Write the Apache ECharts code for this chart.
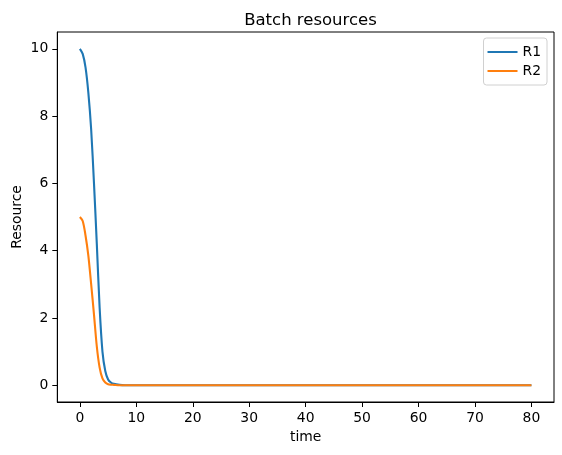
<!DOCTYPE html>
<html><head><meta charset="utf-8">
<script src="https://cdn.jsdelivr.net/npm/echarts@6/dist/echarts.min.js"></script>
<style>html,body{margin:0;padding:0;background:#fff}#c{width:562px;height:455px}</style>
</head><body><div id="c"></div>
<script>
const times = [0,0.5,1,1.5,2,2.5,3,3.5,4,4.5,5,5.5,6,7,8,10,20,30,40,50,60,70,80];
const r1 = [10.0,9.85,9.45,8.7,7.6,6.0,4.2,2.3,1.0,0.42,0.17,0.08,0.04,0.01,0.0,0,0,0,0,0,0,0,0];
const r2 = [5.0,4.88,4.45,3.85,3.0,2.1,1.15,0.52,0.2,0.08,0.03,0.015,0.01,0.0,0,0,0,0,0,0,0,0,0];
const xTicks = [0,10,20,30,40,50,60,70,80];
const yTicks = [0,2,4,6,8,10];

const xSpan = xTicks[xTicks.length-1] - xTicks[0];
const ySpan = yTicks[yTicks.length-1] - yTicks[0];
const font = 'DejaVu Sans';
const chart = echarts.init(document.getElementById('c'), null, {renderer:'canvas'});
chart.setOption({
  animation:false,
  backgroundColor:'#fff',
  title:{text:'Batch resources', left:305.5, top:7, textAlign:'center',
    textStyle:{fontFamily:font,fontSize:16.5,fontWeight:'normal',color:'#000'}},
  grid:{left:57.3,right:8,top:32,bottom:53,containLabel:false,outerBoundsMode:'none',
    show:true,borderColor:'#000',borderWidth:1,backgroundColor:'transparent'},
  legend:{orient:'vertical',right:15,top:38,itemWidth:30,itemHeight:14,itemGap:5,
    padding:[7,6,7,4],borderColor:'#d0d0d0',borderWidth:1,borderRadius:3,backgroundColor:'rgba(255,255,255,0.8)',
    textStyle:{fontFamily:font,fontSize:13.9,color:'#000'},
    data:[{name:'R1',icon:'path://M0,0 L30,0 L30,2 L0,2 Z'},{name:'R2',icon:'path://M0,0 L30,0 L30,2 L0,2 Z'}]},
  xAxis:{type:'value',min:xTicks[0]-0.05*xSpan,max:xTicks[xTicks.length-1]+0.05*xSpan,
    name:'time',nameLocation:'middle',nameGap:28,
    nameTextStyle:{fontFamily:font,fontSize:13.9,color:'#000'},
    axisLine:{show:true,onZero:false,lineStyle:{color:'#000',width:1}},
    axisTick:{show:true,inside:false,length:5,customValues:xTicks,lineStyle:{color:'#000',width:1}},
    axisLabel:{fontFamily:font,fontSize:13.9,color:'#000',margin:9,customValues:xTicks},
    splitLine:{show:false}},
  yAxis:{type:'value',min:yTicks[0]-0.05*ySpan,max:yTicks[yTicks.length-1]+0.05*ySpan,
    name:'Resource',nameLocation:'middle',nameGap:33,nameRotate:90,nameMoveOverlap:false,
    nameTextStyle:{fontFamily:font,fontSize:13.9,color:'#000'},
    axisLine:{show:true,onZero:false,lineStyle:{color:'#000',width:1}},
    axisTick:{show:true,inside:false,length:5,customValues:yTicks,lineStyle:{color:'#000',width:1}},
    axisLabel:{fontFamily:font,fontSize:13.9,color:'#000',margin:9,customValues:yTicks},
    splitLine:{show:false}},
  series:[
    {name:'R1',type:'line',symbol:'none',smooth:0.3,
     data:times.map((t,i)=>[t,r1[i]]),lineStyle:{color:'#1f77b4',width:2.1},itemStyle:{color:'#1f77b4'}},
    {name:'R2',type:'line',symbol:'none',smooth:0.3,
     data:times.map((t,i)=>[t,r2[i]]),lineStyle:{color:'#ff7f0e',width:2.1},itemStyle:{color:'#ff7f0e'}}
  ]
});
</script></body></html>
